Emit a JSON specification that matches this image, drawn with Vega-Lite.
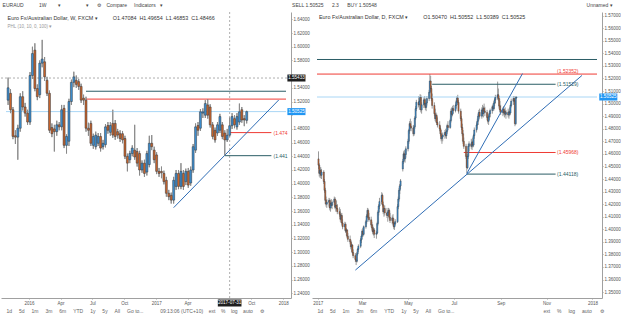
{
"$schema":"https://vega.github.io/schema/vega-lite/v6.json",
"background":"white",
"padding":{"left":0,"top":2,"right":0,"bottom":0},
"title":{"text":"EURAUD\u00a0\u00a0\u00a0\u00a0\u00a0\u00a0\u00a0\u00a0\u00a0\u00a0\u00a01W\u00a0\u00a0\u00a0\u00a0\u00a0\u00a0\u00a0\u00a0▾\u00a0\u00a0\u00a0\u00a0\u00a0\u00a0\u00a0\u00a0\u00a0\u00a0\u00a0\u00a0\u00a0\u00a0\u00a0\u00a0\u00a0\u00a0▾\u00a0\u00a0\u00a0\u00a0\u00a0\u00a0⚙\u00a0\u00a0\u00a0\u00a0Compare\u00a0\u00a0\u00a0\u00a0\u00a0Indicators\u00a0\u00a0\u00a0▾\u00a0\u00a0\u00a0\u00a0\u00a0\u00a0\u00a0\u00a0\u00a0\u00a0\u00a0\u00a0\u00a0\u00a0\u00a0\u00a0\u00a0\u00a0\u00a0\u00a0\u00a0\u00a0\u00a0\u00a0\u00a0\u00a0\u00a0\u00a0\u00a0\u00a0\u00a0\u00a0\u00a0\u00a0\u00a0\u00a0\u00a0\u00a0\u00a0\u00a0\u00a0\u00a0\u00a0\u00a0\u00a0\u00a0\u00a0\u00a0\u00a0\u00a0\u00a0\u00a0\u00a0\u00a0\u00a0\u00a0\u00a0\u00a0\u00a0\u00a0\u00a0\u00a0\u00a0\u00a0\u00a0\u00a0\u00a0\u00a0\u00a0\u00a0\u00a0\u00a0\u00a0\u00a0\u00a0\u00a0\u00a0\u00a0\u00a0\u00a0\u00a0\u00a0\u00a0\u00a0\u00a0\u00a0\u00a0\u00a0\u00a0\u00a0\u00a0\u00a0\u00a0SELL 1.50525\u00a0\u00a0\u00a0\u00a0\u00a0\u00a02.3\u00a0\u00a0\u00a0\u00a0\u00a0\u00a0BUY 1.50548\u00a0\u00a0\u00a0\u00a0\u00a0\u00a0\u00a0\u00a0\u00a0\u00a0\u00a0\u00a0\u00a0\u00a0\u00a0\u00a0\u00a0\u00a0\u00a0\u00a0\u00a0\u00a0\u00a0\u00a0\u00a0\u00a0\u00a0\u00a0\u00a0\u00a0\u00a0\u00a0\u00a0\u00a0\u00a0\u00a0\u00a0\u00a0\u00a0\u00a0\u00a0\u00a0\u00a0\u00a0\u00a0\u00a0\u00a0\u00a0\u00a0\u00a0\u00a0\u00a0\u00a0\u00a0\u00a0\u00a0\u00a0\u00a0\u00a0\u00a0\u00a0\u00a0\u00a0\u00a0\u00a0\u00a0\u00a0\u00a0\u00a0\u00a0\u00a0\u00a0\u00a0\u00a0\u00a0\u00a0\u00a0\u00a0\u00a0\u00a0\u00a0\u00a0\u00a0\u00a0\u00a0\u00a0\u00a0\u00a0\u00a0\u00a0\u00a0\u00a0\u00a0\u00a0\u00a0\u00a0\u00a0\u00a0\u00a0\u00a0\u00a0\u00a0\u00a0\u00a0\u00a0\u00a0\u00a0\u00a0\u00a0\u00a0\u00a0\u00a0\u00a0\u00a0\u00a0\u00a0\u00a0\u00a0\u00a0\u00a0\u00a0\u00a0\u00a0\u00a0\u00a0\u00a0\u00a0\u00a0\u00a0\u00a0\u00a0\u00a0\u00a0\u00a0\u00a0\u00a0\u00a0\u00a0\u00a0\u00a0\u00a0\u00a0\u00a0\u00a0\u00a0\u00a0\u00a0\u00a0\u00a0\u00a0\u00a0Unnamed ▾","anchor":"start","fontSize":5,"font":"Liberation Sans","color":"#444","fontWeight":"normal","offset":4,"dx":2},
"config":{"view":{"stroke":null},"legend":{"disable":true},
"axis":{"labelFont":"Liberation Sans","labelFontSize":4.5,"labelColor":"#555","domainColor":"#a0a0a0","tickColor":"#a0a0a0","tickSize":1,"grid":false,"titleFont":"Liberation Sans","titleFontSize":5,"titleFontWeight":"normal","titleColor":"#666","labelFlush":false,"labelOverlap":false}},
"spacing":2,
"datasets":{
"hl":[
{"g":"L","a":"2016-06-13","b":"2018-01-09","v":1.535,"k":"teal"},
{"g":"L","a":"2016-06-13","b":"2018-01-09","v":1.52352,"k":"red"},
{"g":"L","a":"2015-10-27","b":"2018-01-09","v":1.50525,"k":"last"},
{"g":"L","a":"2017-07-31","b":"2017-11-28","v":1.4746,"k":"red"},
{"g":"L","a":"2017-07-17","b":"2017-11-28","v":1.4409,"k":"teal"},
{"g":"R","a":"2016-12-31","b":"2018-01-07","v":1.5351,"k":"teal"},
{"g":"R","a":"2016-12-31","b":"2018-01-07","v":1.5235,"k":"red"},
{"g":"R","a":"2016-12-31","b":"2018-01-07","v":1.50525,"k":"last"},
{"g":"R","a":"2017-06-02","b":"2017-11-13","v":1.5154,"k":"teal"},
{"g":"R","a":"2017-07-14","b":"2017-11-13","v":1.4611,"k":"red"},
{"g":"R","a":"2017-07-18","b":"2017-11-13","v":1.4439,"k":"teal"}],
"tr":[
{"g":"L","a":"2017-02-20","b":"2017-12-19","v":1.365,"w":1.5222,"k":"trend"},
{"g":"R","a":"2017-02-20","b":"2017-12-18","v":1.3675,"w":1.5224,"k":"trend"},
{"g":"R","a":"2017-07-18","b":"2017-09-30","v":1.4443,"w":1.5239,"k":"trend"}],
"lab":[
{"g":"L","a":"2017-12-04","v":1.4746,"t":"(1.474","k":"red"},
{"g":"L","a":"2017-12-04","v":1.4409,"t":"(1.441","k":"teal"},
{"g":"R","a":"2017-11-15","v":1.5262,"t":"(1.52352)","k":"red"},
{"g":"R","a":"2017-11-15","v":1.5154,"t":"(1.51529)","k":"teal"},
{"g":"R","a":"2017-11-15","v":1.4611,"t":"(1.45968)","k":"red"},
{"g":"R","a":"2017-11-15","v":1.4439,"t":"(1.44118)","k":"teal"}],
"box":[
{"g":"L","a":"2018-01-13","b":"2018-03-06","m":"2018-02-08","v":1.50525,"t":"1.50525","k":"lastbox"},
{"g":"L","a":"2018-01-13","b":"2018-03-06","m":"2018-02-08","v":1.5543,"t":"1.55433","k":"cross"},
{"g":"L","a":"2017-06-27","b":"2017-09-03","m":"2017-07-31","v":1.2258,"t":"2017-07-31","k":"cross"},
{"g":"R","a":"2018-01-10","b":"2018-02-03","m":"2018-01-22","v":1.50525,"t":"1.50525","k":"lastbox"}],
"cross":[{"g":"L","a":"2017-07-31","v":1.5543}],
"weekly":[
{"d":"2015-11-02","o":1.522,"h":1.555,"l":1.515,"c":1.540},
{"d":"2015-11-09","o":1.532,"h":1.538,"l":1.503,"c":1.508},
{"d":"2015-11-16","o":1.508,"h":1.512,"l":1.465,"c":1.469},
{"d":"2015-11-23","o":1.470,"h":1.478,"l":1.458,"c":1.468},
{"d":"2015-11-30","o":1.468,"h":1.486,"l":1.435,"c":1.481},
{"d":"2015-12-07","o":1.481,"h":1.532,"l":1.476,"c":1.527},
{"d":"2015-12-14","o":1.527,"h":1.535,"l":1.507,"c":1.512},
{"d":"2015-12-21","o":1.512,"h":1.518,"l":1.498,"c":1.503},
{"d":"2015-12-28","o":1.503,"h":1.508,"l":1.486,"c":1.490},
{"d":"2016-01-04","o":1.490,"h":1.563,"l":1.486,"c":1.558},
{"d":"2016-01-11","o":1.558,"h":1.600,"l":1.553,"c":1.590},
{"d":"2016-01-18","o":1.595,"h":1.605,"l":1.535,"c":1.539},
{"d":"2016-01-25","o":1.539,"h":1.545,"l":1.522,"c":1.527},
{"d":"2016-02-01","o":1.530,"h":1.580,"l":1.525,"c":1.576},
{"d":"2016-02-08","o":1.576,"h":1.610,"l":1.570,"c":1.582},
{"d":"2016-02-15","o":1.578,"h":1.585,"l":1.550,"c":1.556},
{"d":"2016-02-22","o":1.551,"h":1.556,"l":1.528,"c":1.532},
{"d":"2016-02-29","o":1.532,"h":1.536,"l":1.474,"c":1.478},
{"d":"2016-03-07","o":1.482,"h":1.488,"l":1.468,"c":1.473},
{"d":"2016-03-14","o":1.480,"h":1.486,"l":1.447,"c":1.476},
{"d":"2016-03-21","o":1.476,"h":1.492,"l":1.470,"c":1.486},
{"d":"2016-03-28","o":1.486,"h":1.490,"l":1.478,"c":1.483},
{"d":"2016-04-04","o":1.483,"h":1.515,"l":1.478,"c":1.508},
{"d":"2016-04-11","o":1.510,"h":1.515,"l":1.452,"c":1.456},
{"d":"2016-04-18","o":1.456,"h":1.472,"l":1.444,"c":1.469},
{"d":"2016-04-25","o":1.462,"h":1.524,"l":1.455,"c":1.520},
{"d":"2016-05-02","o":1.520,"h":1.552,"l":1.515,"c":1.548},
{"d":"2016-05-09","o":1.548,"h":1.5635,"l":1.541,"c":1.556},
{"d":"2016-05-16","o":1.551,"h":1.558,"l":1.540,"c":1.545},
{"d":"2016-05-23","o":1.549,"h":1.553,"l":1.537,"c":1.542},
{"d":"2016-05-30","o":1.542,"h":1.546,"l":1.518,"c":1.522},
{"d":"2016-06-06","o":1.525,"h":1.530,"l":1.515,"c":1.522},
{"d":"2016-06-13","o":1.522,"h":1.527,"l":1.476,"c":1.481},
{"d":"2016-06-20","o":1.481,"h":1.489,"l":1.470,"c":1.478},
{"d":"2016-06-27","o":1.488,"h":1.492,"l":1.455,"c":1.459},
{"d":"2016-07-04","o":1.456,"h":1.473,"l":1.451,"c":1.469},
{"d":"2016-07-11","o":1.454,"h":1.476,"l":1.450,"c":1.471},
{"d":"2016-07-18","o":1.459,"h":1.474,"l":1.455,"c":1.469},
{"d":"2016-07-25","o":1.469,"h":1.474,"l":1.447,"c":1.452},
{"d":"2016-08-01","o":1.454,"h":1.464,"l":1.450,"c":1.459},
{"d":"2016-08-08","o":1.457,"h":1.487,"l":1.453,"c":1.483},
{"d":"2016-08-15","o":1.485,"h":1.490,"l":1.473,"c":1.478},
{"d":"2016-08-22","o":1.475,"h":1.490,"l":1.470,"c":1.485},
{"d":"2016-08-29","o":1.488,"h":1.508,"l":1.467,"c":1.471},
{"d":"2016-09-05","o":1.488,"h":1.493,"l":1.464,"c":1.469},
{"d":"2016-09-12","o":1.476,"h":1.480,"l":1.466,"c":1.471},
{"d":"2016-09-19","o":1.473,"h":1.478,"l":1.461,"c":1.466},
{"d":"2016-09-26","o":1.473,"h":1.477,"l":1.459,"c":1.464},
{"d":"2016-10-03","o":1.466,"h":1.470,"l":1.436,"c":1.440},
{"d":"2016-10-10","o":1.440,"h":1.444,"l":1.418,"c":1.430},
{"d":"2016-10-17","o":1.435,"h":1.448,"l":1.430,"c":1.444},
{"d":"2016-10-24","o":1.444,"h":1.456,"l":1.440,"c":1.452},
{"d":"2016-10-31","o":1.449,"h":1.486,"l":1.435,"c":1.439},
{"d":"2016-11-07","o":1.447,"h":1.452,"l":1.425,"c":1.430},
{"d":"2016-11-14","o":1.444,"h":1.448,"l":1.412,"c":1.420},
{"d":"2016-11-21","o":1.420,"h":1.434,"l":1.416,"c":1.430},
{"d":"2016-11-28","o":1.430,"h":1.435,"l":1.410,"c":1.415},
{"d":"2016-12-05","o":1.417,"h":1.448,"l":1.412,"c":1.444},
{"d":"2016-12-12","o":1.428,"h":1.470,"l":1.424,"c":1.459},
{"d":"2016-12-19","o":1.459,"h":1.471,"l":1.449,"c":1.454},
{"d":"2016-12-26","o":1.449,"h":1.454,"l":1.430,"c":1.435},
{"d":"2017-01-02","o":1.442,"h":1.446,"l":1.414,"c":1.418},
{"d":"2017-01-09","o":1.418,"h":1.423,"l":1.410,"c":1.415},
{"d":"2017-01-16","o":1.418,"h":1.425,"l":1.408,"c":1.416},
{"d":"2017-01-23","o":1.415,"h":1.419,"l":1.399,"c":1.403},
{"d":"2017-01-30","o":1.405,"h":1.410,"l":1.381,"c":1.386},
{"d":"2017-02-06","o":1.386,"h":1.391,"l":1.376,"c":1.381},
{"d":"2017-02-13","o":1.383,"h":1.387,"l":1.371,"c":1.376},
{"d":"2017-02-20","o":1.376,"h":1.410,"l":1.371,"c":1.405},
{"d":"2017-02-27","o":1.396,"h":1.420,"l":1.391,"c":1.415},
{"d":"2017-03-06","o":1.415,"h":1.420,"l":1.392,"c":1.396},
{"d":"2017-03-13","o":1.396,"h":1.430,"l":1.392,"c":1.418},
{"d":"2017-03-20","o":1.415,"h":1.420,"l":1.391,"c":1.396},
{"d":"2017-03-27","o":1.403,"h":1.422,"l":1.398,"c":1.418},
{"d":"2017-04-03","o":1.418,"h":1.423,"l":1.394,"c":1.398},
{"d":"2017-04-10","o":1.401,"h":1.425,"l":1.397,"c":1.420},
{"d":"2017-04-17","o":1.420,"h":1.458,"l":1.416,"c":1.454},
{"d":"2017-04-24","o":1.449,"h":1.488,"l":1.445,"c":1.483},
{"d":"2017-05-01","o":1.485,"h":1.490,"l":1.470,"c":1.478},
{"d":"2017-05-08","o":1.481,"h":1.509,"l":1.477,"c":1.505},
{"d":"2017-05-15","o":1.503,"h":1.510,"l":1.496,"c":1.505},
{"d":"2017-05-22","o":1.500,"h":1.522,"l":1.496,"c":1.517},
{"d":"2017-05-29","o":1.515,"h":1.5235,"l":1.495,"c":1.500},
{"d":"2017-06-05","o":1.512,"h":1.516,"l":1.482,"c":1.486},
{"d":"2017-06-12","o":1.486,"h":1.490,"l":1.465,"c":1.469},
{"d":"2017-06-19","o":1.478,"h":1.482,"l":1.460,"c":1.464},
{"d":"2017-06-26","o":1.474,"h":1.490,"l":1.470,"c":1.486},
{"d":"2017-07-03","o":1.478,"h":1.502,"l":1.474,"c":1.498},
{"d":"2017-07-10","o":1.486,"h":1.490,"l":1.465,"c":1.469},
{"d":"2017-07-17","o":1.474,"h":1.478,"l":1.441,"c":1.464},
{"d":"2017-07-24","o":1.464,"h":1.480,"l":1.461,"c":1.4708},
{"d":"2017-07-31","o":1.47084,"h":1.49654,"l":1.46853,"c":1.48466},
{"d":"2017-08-07","o":1.4847,"h":1.503,"l":1.480,"c":1.498},
{"d":"2017-08-14","o":1.495,"h":1.500,"l":1.481,"c":1.486},
{"d":"2017-08-21","o":1.483,"h":1.503,"l":1.479,"c":1.498},
{"d":"2017-08-28","o":1.490,"h":1.517,"l":1.486,"c":1.505},
{"d":"2017-09-04","o":1.508,"h":1.512,"l":1.489,"c":1.493},
{"d":"2017-09-11","o":1.495,"h":1.500,"l":1.484,"c":1.493},
{"d":"2017-09-18","o":1.4925,"h":1.5065,"l":1.488,"c":1.50525}],
"daily":[
{"d":"2017-01-02","o":1.4560,"h":1.4620,"l":1.4480,"c":1.4510},
{"d":"2017-01-03","o":1.4510,"h":1.4525,"l":1.4420,"c":1.4445},
{"d":"2017-01-04","o":1.4445,"h":1.4490,"l":1.4410,"c":1.4470},
{"d":"2017-01-05","o":1.4470,"h":1.4495,"l":1.4405,"c":1.4430},
{"d":"2017-01-06","o":1.4430,"h":1.4480,"l":1.4400,"c":1.4455},
{"d":"2017-01-09","o":1.4455,"h":1.4470,"l":1.4360,"c":1.4380},
{"d":"2017-01-10","o":1.4380,"h":1.4400,"l":1.4290,"c":1.4310},
{"d":"2017-01-11","o":1.4310,"h":1.4330,"l":1.4200,"c":1.4230},
{"d":"2017-01-12","o":1.4230,"h":1.4260,"l":1.4180,"c":1.4200},
{"d":"2017-01-13","o":1.4200,"h":1.4240,"l":1.4170,"c":1.4215},
{"d":"2017-01-16","o":1.4215,"h":1.4250,"l":1.4180,"c":1.4230},
{"d":"2017-01-17","o":1.4230,"h":1.4245,"l":1.4150,"c":1.4170},
{"d":"2017-01-18","o":1.4170,"h":1.4220,"l":1.4140,"c":1.4205},
{"d":"2017-01-19","o":1.4205,"h":1.4240,"l":1.4170,"c":1.4190},
{"d":"2017-01-20","o":1.4190,"h":1.4230,"l":1.4160,"c":1.4215},
{"d":"2017-01-23","o":1.4215,"h":1.4260,"l":1.4190,"c":1.4240},
{"d":"2017-01-24","o":1.4240,"h":1.4255,"l":1.4160,"c":1.4175},
{"d":"2017-01-25","o":1.4175,"h":1.4210,"l":1.4140,"c":1.4190},
{"d":"2017-01-26","o":1.4190,"h":1.4230,"l":1.4150,"c":1.4165},
{"d":"2017-01-27","o":1.4165,"h":1.4200,"l":1.4120,"c":1.4140},
{"d":"2017-01-30","o":1.4140,"h":1.4175,"l":1.4100,"c":1.4120},
{"d":"2017-01-31","o":1.4120,"h":1.4160,"l":1.4060,"c":1.4080},
{"d":"2017-02-01","o":1.4080,"h":1.4130,"l":1.4050,"c":1.4110},
{"d":"2017-02-02","o":1.4110,"h":1.4130,"l":1.4030,"c":1.4050},
{"d":"2017-02-03","o":1.4050,"h":1.4080,"l":1.4000,"c":1.4020},
{"d":"2017-02-06","o":1.4020,"h":1.4060,"l":1.3990,"c":1.4040},
{"d":"2017-02-07","o":1.4040,"h":1.4055,"l":1.3970,"c":1.3985},
{"d":"2017-02-08","o":1.3985,"h":1.4010,"l":1.3950,"c":1.3995},
{"d":"2017-02-09","o":1.3995,"h":1.4000,"l":1.3930,"c":1.3945},
{"d":"2017-02-10","o":1.3945,"h":1.3970,"l":1.3900,"c":1.3920},
{"d":"2017-02-13","o":1.3920,"h":1.3950,"l":1.3880,"c":1.3900},
{"d":"2017-02-14","o":1.3900,"h":1.3915,"l":1.3840,"c":1.3860},
{"d":"2017-02-15","o":1.3860,"h":1.3890,"l":1.3820,"c":1.3875},
{"d":"2017-02-16","o":1.3875,"h":1.3880,"l":1.3800,"c":1.3815},
{"d":"2017-02-17","o":1.3815,"h":1.3840,"l":1.3770,"c":1.3790},
{"d":"2017-02-20","o":1.3790,"h":1.3810,"l":1.3740,"c":1.3760},
{"d":"2017-02-21","o":1.3760,"h":1.3780,"l":1.3715,"c":1.3745},
{"d":"2017-02-22","o":1.3745,"h":1.3820,"l":1.3735,"c":1.3805},
{"d":"2017-02-23","o":1.3805,"h":1.3850,"l":1.3790,"c":1.3840},
{"d":"2017-02-24","o":1.3840,"h":1.3880,"l":1.3820,"c":1.3865},
{"d":"2017-02-27","o":1.3865,"h":1.3930,"l":1.3850,"c":1.3915},
{"d":"2017-02-28","o":1.3915,"h":1.3960,"l":1.3890,"c":1.3945},
{"d":"2017-03-01","o":1.3945,"h":1.4000,"l":1.3920,"c":1.3985},
{"d":"2017-03-02","o":1.3985,"h":1.4010,"l":1.3940,"c":1.3960},
{"d":"2017-03-03","o":1.3960,"h":1.4030,"l":1.3950,"c":1.4020},
{"d":"2017-03-06","o":1.4020,"h":1.4075,"l":1.4005,"c":1.4060},
{"d":"2017-03-07","o":1.4060,"h":1.4120,"l":1.4040,"c":1.4105},
{"d":"2017-03-08","o":1.4105,"h":1.4170,"l":1.4090,"c":1.4150},
{"d":"2017-03-09","o":1.4150,"h":1.4165,"l":1.4080,"c":1.4095},
{"d":"2017-03-10","o":1.4095,"h":1.4130,"l":1.4060,"c":1.4075},
{"d":"2017-03-13","o":1.4075,"h":1.4100,"l":1.4020,"c":1.4035},
{"d":"2017-03-14","o":1.4035,"h":1.4060,"l":1.3990,"c":1.4010},
{"d":"2017-03-15","o":1.4010,"h":1.4040,"l":1.3960,"c":1.3980},
{"d":"2017-03-16","o":1.3980,"h":1.4020,"l":1.3950,"c":1.3995},
{"d":"2017-03-17","o":1.3995,"h":1.4010,"l":1.3930,"c":1.3960},
{"d":"2017-03-20","o":1.3960,"h":1.3985,"l":1.3925,"c":1.3970},
{"d":"2017-03-21","o":1.3970,"h":1.4060,"l":1.3960,"c":1.4045},
{"d":"2017-03-22","o":1.4045,"h":1.4150,"l":1.4030,"c":1.4135},
{"d":"2017-03-23","o":1.4135,"h":1.4200,"l":1.4110,"c":1.4185},
{"d":"2017-03-24","o":1.4185,"h":1.4250,"l":1.4160,"c":1.4220},
{"d":"2017-03-27","o":1.4220,"h":1.4295,"l":1.4200,"c":1.4270},
{"d":"2017-03-28","o":1.4270,"h":1.4285,"l":1.4180,"c":1.4195},
{"d":"2017-03-29","o":1.4195,"h":1.4220,"l":1.4120,"c":1.4140},
{"d":"2017-03-30","o":1.4140,"h":1.4180,"l":1.4100,"c":1.4165},
{"d":"2017-03-31","o":1.4165,"h":1.4190,"l":1.4110,"c":1.4130},
{"d":"2017-04-03","o":1.4130,"h":1.4170,"l":1.4090,"c":1.4110},
{"d":"2017-04-04","o":1.4110,"h":1.4150,"l":1.4060,"c":1.4135},
{"d":"2017-04-05","o":1.4135,"h":1.4170,"l":1.4100,"c":1.4150},
{"d":"2017-04-06","o":1.4150,"h":1.4165,"l":1.4080,"c":1.4095},
{"d":"2017-04-07","o":1.4095,"h":1.4130,"l":1.4050,"c":1.4070},
{"d":"2017-04-10","o":1.4070,"h":1.4110,"l":1.4040,"c":1.4090},
{"d":"2017-04-11","o":1.4090,"h":1.4120,"l":1.4030,"c":1.4050},
{"d":"2017-04-12","o":1.4050,"h":1.4085,"l":1.4000,"c":1.4020},
{"d":"2017-04-13","o":1.4020,"h":1.4060,"l":1.3995,"c":1.4045},
{"d":"2017-04-14","o":1.4045,"h":1.4080,"l":1.4030,"c":1.4060},
{"d":"2017-04-17","o":1.4060,"h":1.4200,"l":1.4050,"c":1.4180},
{"d":"2017-04-18","o":1.4180,"h":1.4260,"l":1.4160,"c":1.4240},
{"d":"2017-04-19","o":1.4240,"h":1.4330,"l":1.4220,"c":1.4310},
{"d":"2017-04-20","o":1.4310,"h":1.4360,"l":1.4280,"c":1.4345},
{"d":"2017-04-21","o":1.4345,"h":1.4400,"l":1.4320,"c":1.4385},
{"d":"2017-04-24","o":1.4480,"h":1.4560,"l":1.4460,"c":1.4540},
{"d":"2017-04-25","o":1.4540,"h":1.4620,"l":1.4520,"c":1.4600},
{"d":"2017-04-26","o":1.4600,"h":1.4630,"l":1.4540,"c":1.4560},
{"d":"2017-04-27","o":1.4560,"h":1.4620,"l":1.4530,"c":1.4595},
{"d":"2017-04-28","o":1.4595,"h":1.4660,"l":1.4570,"c":1.4640},
{"d":"2017-05-01","o":1.4640,"h":1.4720,"l":1.4620,"c":1.4700},
{"d":"2017-05-02","o":1.4700,"h":1.4800,"l":1.4680,"c":1.4785},
{"d":"2017-05-03","o":1.4785,"h":1.4860,"l":1.4760,"c":1.4840},
{"d":"2017-05-04","o":1.4840,"h":1.4880,"l":1.4800,"c":1.4820},
{"d":"2017-05-05","o":1.4820,"h":1.4860,"l":1.4780,"c":1.4805},
{"d":"2017-05-08","o":1.4805,"h":1.4830,"l":1.4740,"c":1.4760},
{"d":"2017-05-09","o":1.4760,"h":1.4830,"l":1.4745,"c":1.4815},
{"d":"2017-05-10","o":1.4815,"h":1.4900,"l":1.4800,"c":1.4885},
{"d":"2017-05-11","o":1.4885,"h":1.4980,"l":1.4870,"c":1.4960},
{"d":"2017-05-12","o":1.4960,"h":1.5030,"l":1.4940,"c":1.5010},
{"d":"2017-05-15","o":1.5010,"h":1.5060,"l":1.4970,"c":1.4990},
{"d":"2017-05-16","o":1.4990,"h":1.5040,"l":1.4950,"c":1.5020},
{"d":"2017-05-17","o":1.5020,"h":1.5075,"l":1.4990,"c":1.5050},
{"d":"2017-05-18","o":1.5050,"h":1.5070,"l":1.4930,"c":1.4950},
{"d":"2017-05-19","o":1.4950,"h":1.5010,"l":1.4920,"c":1.4990},
{"d":"2017-05-22","o":1.4990,"h":1.5050,"l":1.4965,"c":1.5030},
{"d":"2017-05-23","o":1.5030,"h":1.5060,"l":1.4980,"c":1.5000},
{"d":"2017-05-24","o":1.5000,"h":1.5040,"l":1.4950,"c":1.4970},
{"d":"2017-05-25","o":1.4970,"h":1.5020,"l":1.4940,"c":1.5005},
{"d":"2017-05-26","o":1.5005,"h":1.5060,"l":1.4985,"c":1.5040},
{"d":"2017-05-29","o":1.5040,"h":1.5110,"l":1.5020,"c":1.5090},
{"d":"2017-05-30","o":1.5090,"h":1.5235,"l":1.5080,"c":1.5180},
{"d":"2017-05-31","o":1.5180,"h":1.5220,"l":1.5100,"c":1.5120},
{"d":"2017-06-01","o":1.5120,"h":1.5140,"l":1.5020,"c":1.5040},
{"d":"2017-06-02","o":1.5040,"h":1.5080,"l":1.4960,"c":1.4985},
{"d":"2017-06-05","o":1.4985,"h":1.5010,"l":1.4900,"c":1.4920},
{"d":"2017-06-06","o":1.4920,"h":1.4960,"l":1.4860,"c":1.4880},
{"d":"2017-06-07","o":1.4880,"h":1.4930,"l":1.4850,"c":1.4905},
{"d":"2017-06-08","o":1.4905,"h":1.4920,"l":1.4830,"c":1.4850},
{"d":"2017-06-09","o":1.4850,"h":1.4890,"l":1.4810,"c":1.4830},
{"d":"2017-06-12","o":1.4830,"h":1.4860,"l":1.4780,"c":1.4800},
{"d":"2017-06-13","o":1.4800,"h":1.4820,"l":1.4740,"c":1.4760},
{"d":"2017-06-14","o":1.4760,"h":1.4790,"l":1.4700,"c":1.4720},
{"d":"2017-06-15","o":1.4720,"h":1.4750,"l":1.4680,"c":1.4735},
{"d":"2017-06-16","o":1.4735,"h":1.4770,"l":1.4700,"c":1.4750},
{"d":"2017-06-19","o":1.4750,"h":1.4790,"l":1.4720,"c":1.4770},
{"d":"2017-06-20","o":1.4770,"h":1.4800,"l":1.4730,"c":1.4745},
{"d":"2017-06-21","o":1.4745,"h":1.4790,"l":1.4720,"c":1.4780},
{"d":"2017-06-22","o":1.4780,"h":1.4840,"l":1.4760,"c":1.4825},
{"d":"2017-06-23","o":1.4825,"h":1.4860,"l":1.4790,"c":1.4810},
{"d":"2017-06-26","o":1.4810,"h":1.4880,"l":1.4800,"c":1.4865},
{"d":"2017-06-27","o":1.4865,"h":1.4960,"l":1.4850,"c":1.4940},
{"d":"2017-06-28","o":1.4940,"h":1.4970,"l":1.4890,"c":1.4915},
{"d":"2017-06-29","o":1.4915,"h":1.4980,"l":1.4900,"c":1.4960},
{"d":"2017-06-30","o":1.4960,"h":1.4990,"l":1.4920,"c":1.4945},
{"d":"2017-07-03","o":1.4945,"h":1.5000,"l":1.4930,"c":1.4985},
{"d":"2017-07-04","o":1.4985,"h":1.5030,"l":1.4960,"c":1.5015},
{"d":"2017-07-05","o":1.5015,"h":1.5060,"l":1.4990,"c":1.5045},
{"d":"2017-07-06","o":1.5045,"h":1.5070,"l":1.4990,"c":1.5010},
{"d":"2017-07-07","o":1.5010,"h":1.5030,"l":1.4920,"c":1.4940},
{"d":"2017-07-10","o":1.4940,"h":1.4960,"l":1.4860,"c":1.4880},
{"d":"2017-07-11","o":1.4880,"h":1.4900,"l":1.4790,"c":1.4810},
{"d":"2017-07-12","o":1.4810,"h":1.4840,"l":1.4740,"c":1.4760},
{"d":"2017-07-13","o":1.4760,"h":1.4790,"l":1.4680,"c":1.4700},
{"d":"2017-07-14","o":1.4700,"h":1.4730,"l":1.4640,"c":1.4660},
{"d":"2017-07-17","o":1.4660,"h":1.4680,"l":1.4560,"c":1.4580},
{"d":"2017-07-18","o":1.4580,"h":1.4600,"l":1.4445,"c":1.4490},
{"d":"2017-07-19","o":1.4490,"h":1.4600,"l":1.4480,"c":1.4580},
{"d":"2017-07-20","o":1.4580,"h":1.4680,"l":1.4560,"c":1.4660},
{"d":"2017-07-21","o":1.4660,"h":1.4700,"l":1.4620,"c":1.4680},
{"d":"2017-07-24","o":1.4680,"h":1.4720,"l":1.4640,"c":1.4660},
{"d":"2017-07-25","o":1.4660,"h":1.4710,"l":1.4630,"c":1.4695},
{"d":"2017-07-26","o":1.4695,"h":1.4730,"l":1.4650,"c":1.4670},
{"d":"2017-07-27","o":1.4670,"h":1.4760,"l":1.4655,"c":1.4745},
{"d":"2017-07-28","o":1.4745,"h":1.4810,"l":1.4720,"c":1.4790},
{"d":"2017-07-31","o":1.4790,"h":1.4850,"l":1.4770,"c":1.4830},
{"d":"2017-08-01","o":1.4830,"h":1.4880,"l":1.4800,"c":1.4860},
{"d":"2017-08-02","o":1.4860,"h":1.4920,"l":1.4830,"c":1.4900},
{"d":"2017-08-03","o":1.4900,"h":1.4950,"l":1.4870,"c":1.4930},
{"d":"2017-08-04","o":1.4930,"h":1.4960,"l":1.4880,"c":1.4900},
{"d":"2017-08-07","o":1.4900,"h":1.4970,"l":1.4880,"c":1.4950},
{"d":"2017-08-08","o":1.4950,"h":1.4990,"l":1.4900,"c":1.4920},
{"d":"2017-08-09","o":1.4920,"h":1.4980,"l":1.4890,"c":1.4965},
{"d":"2017-08-10","o":1.4965,"h":1.5000,"l":1.4920,"c":1.4940},
{"d":"2017-08-11","o":1.4940,"h":1.4975,"l":1.4900,"c":1.4930},
{"d":"2017-08-14","o":1.4930,"h":1.4950,"l":1.4870,"c":1.4890},
{"d":"2017-08-15","o":1.4890,"h":1.4920,"l":1.4840,"c":1.4860},
{"d":"2017-08-16","o":1.4860,"h":1.4910,"l":1.4830,"c":1.4895},
{"d":"2017-08-17","o":1.4895,"h":1.4940,"l":1.4870,"c":1.4920},
{"d":"2017-08-18","o":1.4920,"h":1.4960,"l":1.4890,"c":1.4945},
{"d":"2017-08-21","o":1.4945,"h":1.4990,"l":1.4920,"c":1.4975},
{"d":"2017-08-22","o":1.4975,"h":1.5000,"l":1.4940,"c":1.4960},
{"d":"2017-08-23","o":1.4960,"h":1.5020,"l":1.4945,"c":1.5005},
{"d":"2017-08-24","o":1.5005,"h":1.5050,"l":1.4980,"c":1.5030},
{"d":"2017-08-25","o":1.5030,"h":1.5070,"l":1.5000,"c":1.5050},
{"d":"2017-08-28","o":1.5050,"h":1.5175,"l":1.5030,"c":1.5070},
{"d":"2017-08-29","o":1.5070,"h":1.5120,"l":1.5020,"c":1.5040},
{"d":"2017-08-30","o":1.5040,"h":1.5060,"l":1.4960,"c":1.4980},
{"d":"2017-08-31","o":1.4980,"h":1.5020,"l":1.4930,"c":1.4950},
{"d":"2017-09-01","o":1.4950,"h":1.4990,"l":1.4910,"c":1.4930},
{"d":"2017-09-04","o":1.4930,"h":1.4970,"l":1.4900,"c":1.4955},
{"d":"2017-09-05","o":1.4955,"h":1.4980,"l":1.4910,"c":1.4925},
{"d":"2017-09-06","o":1.4925,"h":1.4960,"l":1.4890,"c":1.4940},
{"d":"2017-09-07","o":1.4940,"h":1.4970,"l":1.4900,"c":1.4915},
{"d":"2017-09-08","o":1.4915,"h":1.4950,"l":1.4880,"c":1.4930},
{"d":"2017-09-11","o":1.4930,"h":1.4960,"l":1.4890,"c":1.4910},
{"d":"2017-09-12","o":1.4910,"h":1.4950,"l":1.4880,"c":1.4935},
{"d":"2017-09-13","o":1.4935,"h":1.4970,"l":1.4900,"c":1.4925},
{"d":"2017-09-14","o":1.4925,"h":1.5000,"l":1.4910,"c":1.4985},
{"d":"2017-09-15","o":1.4985,"h":1.5040,"l":1.4970,"c":1.5020},
{"d":"2017-09-18","o":1.5020,"h":1.5060,"l":1.4990,"c":1.5040},
{"d":"2017-09-19","o":1.5040,"h":1.5060,"l":1.4990,"c":1.5020},
{"d":"2017-09-20","o":1.5020,"h":1.5035,"l":1.4820,"c":1.4840},
{"d":"2017-09-21","o":1.4840,"h":1.5060,"l":1.4830,"c":1.5047},
{"d":"2017-09-22","o":1.50470,"h":1.50552,"l":1.50389,"c":1.50525}]
},
"hconcat":[
{"width":290,"height":286,
"title":{"text":"Euro Fx/Australian Dollar, W, FXCM ▾\u00a0\u00a0\u00a0\u00a0\u00a0\u00a0\u00a0\u00a0\u00a0\u00a0O1.47084\u00a0\u00a0H1.49654\u00a0\u00a0L1.46853\u00a0\u00a0C1.48466","subtitle":"PHL (10, 10, 0, 100) ▾","anchor":"start","offset":-17,"fontSize":5.4,"subtitleFontSize":4.5,"subtitleColor":"#999","color":"#333","fontWeight":"normal","font":"Liberation Sans","subtitleFont":"Liberation Sans","subtitlePadding":3,"dx":7},
"layer":[
{"data":{"name":"weekly"},"mark":{"type":"rule","color":"#8a8a8a","strokeWidth":1},
 "encoding":{
  "x":{"field":"d","type":"temporal","scale":{"type":"utc","domain":[{"year":2015,"month":10,"date":27,"utc":true},{"year":2018,"month":1,"date":9,"utc":true}]},
   "axis":{"orient":"bottom","tickCount":{"interval":"month","step":3},"labelOverlap":false,"labelExpr":"(utcyear(datum.value)==2017 && utcmonth(datum.value)==6) ? '' : (utcmonth(datum.value)==0 ? utcFormat(datum.value,'%Y') : utcFormat(datum.value,'%b'))","labelPadding":1,"titleLimit":1000,"titleX":5,"titleAlign":"left","titleAnchor":"start","titlePadding":4,
   "title":"1d\u00a0\u00a0\u00a0\u00a0\u00a05d\u00a0\u00a0\u00a0\u00a0\u00a01m\u00a0\u00a0\u00a0\u00a0\u00a03m\u00a0\u00a0\u00a0\u00a0\u00a06m\u00a0\u00a0\u00a0\u00a0\u00a0YTD\u00a0\u00a0\u00a0\u00a0\u00a01y\u00a0\u00a0\u00a0\u00a0\u00a05y\u00a0\u00a0\u00a0\u00a0\u00a0All\u00a0\u00a0\u00a0\u00a0\u00a0Go to...\u00a0\u00a0\u00a0\u00a0\u00a0\u00a0\u00a0\u00a0\u00a0\u00a0\u00a0\u00a009:13:06 (UTC+10)\u00a0\u00a0\u00a0\u00a0ext\u00a0\u00a0\u00a0\u00a0%\u00a0\u00a0\u00a0\u00a0log\u00a0\u00a0\u00a0\u00a0auto\u00a0\u00a0\u00a0\u00a0\u00a0⚙"}},
  "y":{"field":"l","type":"quantitative","scale":{"domain":[1.2331,1.6507],"zero":false,"nice":false},
   "axis":{"orient":"right","values":[1.24,1.26,1.28,1.3,1.32,1.34,1.36,1.38,1.4,1.42,1.44,1.46,1.48,1.5,1.52,1.54,1.56,1.58,1.6,1.62,1.64],"tickCount":100,"labelOverlap":false,"labelExpr":"(abs(datum.value-1.56)<0.001 || abs(datum.value-1.5)<0.001) ? '' : format(datum.value,'.5f')","title":null,"labelPadding":1}},
  "y2":{"field":"h"}}},
{"data":{"name":"cross"},"mark":{"type":"rule","color":"#9a9a9a","strokeDash":[2,2],"strokeWidth":0.8},
 "encoding":{"x":{"field":"a","type":"temporal"}}},
{"data":{"name":"cross"},"mark":{"type":"rule","color":"#9a9a9a","strokeDash":[2,2],"strokeWidth":0.8},
 "encoding":{"y":{"field":"v","type":"quantitative"}}},
{"data":{"name":"hl"},"transform":[{"filter":"datum.g == 'L'"}],"mark":{"type":"rule","strokeWidth":1},
 "encoding":{"x":{"field":"a","type":"temporal"},"x2":{"field":"b"},"y":{"field":"v","type":"quantitative"},
 "color":{"field":"k","type":"nominal","scale":{"domain":["teal","red","last","trend","lastbox","cross"],"range":["#2b5d66","#ef3b34","#a9d6f5","#2f6db5","#2196f3","#1f1f1f"]}}}},
{"data":{"name":"tr"},"transform":[{"filter":"datum.g == 'L'"}],"mark":{"type":"rule","strokeWidth":1},
 "encoding":{"x":{"field":"a","type":"temporal"},"x2":{"field":"b"},"y":{"field":"v","type":"quantitative"},"y2":{"field":"w"},"color":{"field":"k","type":"nominal"}}},
{"data":{"name":"weekly"},"mark":{"type":"rule","color":"#8a8a8a","strokeWidth":1},
 "encoding":{"x":{"field":"d","type":"temporal"},"y":{"field":"l","type":"quantitative"},"y2":{"field":"h"}}},
{"data":{"name":"weekly"},"mark":{"type":"bar","size":2,"stroke":"#33393f","strokeWidth":0.5},
 "encoding":{"x":{"field":"d","type":"temporal"},"y":{"field":"o","type":"quantitative"},"y2":{"field":"c"},
  "color":{"condition":{"test":"datum.c >= datum.o","value":"#3d8fd1"},"value":"#c8642c"}}},
{"data":{"name":"lab"},"transform":[{"filter":"datum.g == 'L'"}],"mark":{"type":"text","align":"left","baseline":"middle","fontSize":5,"font":"Liberation Sans"},
 "encoding":{"x":{"field":"a","type":"temporal"},"y":{"field":"v","type":"quantitative"},"text":{"field":"t"},"color":{"field":"k","type":"nominal"}}},
{"data":{"name":"box"},"transform":[{"filter":"datum.g == 'L'"}],"mark":{"type":"rule","strokeWidth":7},
 "encoding":{"x":{"field":"a","type":"temporal"},"x2":{"field":"b"},"y":{"field":"v","type":"quantitative"},"color":{"field":"k","type":"nominal"}}},
{"data":{"name":"box"},"transform":[{"filter":"datum.g == 'L'"}],"mark":{"type":"text","align":"center","baseline":"middle","fontSize":4.6,"font":"Liberation Sans","color":"white"},
 "encoding":{"x":{"field":"m","type":"temporal"},"y":{"field":"v","type":"quantitative"},"text":{"field":"t"}}}
]},
{"width":290,"height":286,
"title":{"text":"Euro Fx/Australian Dollar, D, FXCM ▾\u00a0\u00a0\u00a0\u00a0\u00a0\u00a0\u00a0\u00a0\u00a0\u00a0O1.50470\u00a0\u00a0H1.50552\u00a0\u00a0L1.50389\u00a0\u00a0C1.50525","anchor":"start","offset":-8,"fontSize":5.4,"color":"#333","fontWeight":"normal","font":"Liberation Sans","dx":7},
"layer":[
{"data":{"name":"daily"},"mark":{"type":"rule","color":"#9a9a9a","strokeWidth":1},
 "encoding":{
  "x":{"field":"d","type":"temporal","scale":{"type":"utc","domain":[{"year":2016,"month":12,"date":31,"utc":true},{"year":2018,"month":1,"date":7,"utc":true}]},
   "axis":{"orient":"bottom","tickCount":{"interval":"month","step":2},"labelOverlap":false,"labelExpr":"utcmonth(datum.value)==0 ? utcFormat(datum.value,'%Y') : utcFormat(datum.value,'%b')","labelPadding":1,"titleLimit":1000,"titleX":5,"titleAlign":"left","titleAnchor":"start","titlePadding":4,
   "title":"1d\u00a0\u00a0\u00a0\u00a0\u00a05d\u00a0\u00a0\u00a0\u00a0\u00a01m\u00a0\u00a0\u00a0\u00a0\u00a03m\u00a0\u00a0\u00a0\u00a0\u00a06m\u00a0\u00a0\u00a0\u00a0\u00a0YTD\u00a0\u00a0\u00a0\u00a0\u00a01y\u00a0\u00a0\u00a0\u00a0\u00a05y\u00a0\u00a0\u00a0\u00a0\u00a0All\u00a0\u00a0\u00a0\u00a0\u00a0Go to...\u00a0\u00a0\u00a0\u00a0\u00a0\u00a0\u00a0\u00a0\u00a0\u00a0\u00a0\u00a0\u00a0\u00a0\u00a0\u00a0\u00a0\u00a0\u00a0\u00a0\u00a0\u00a0\u00a0\u00a0\u00a0\u00a0\u00a0\u00a0\u00a0\u00a0\u00a0\u00a0\u00a0\u00a0\u00a0\u00a0\u00a0\u00a0\u00a0\u00a0\u00a0\u00a0\u00a0\u00a0\u00a0\u00a0\u00a0\u00a0\u00a0\u00a0\u00a0\u00a0\u00a0\u00a0\u00a0\u00a0\u00a0\u00a0\u00a0\u00a0\u00a0\u00a0\u00a0\u00a0ext\u00a0\u00a0\u00a0\u00a0\u00a0%\u00a0\u00a0\u00a0\u00a0\u00a0log\u00a0\u00a0\u00a0\u00a0\u00a0auto\u00a0\u00a0\u00a0\u00a0\u00a0\u00a0⚙"}},
  "y":{"field":"l","type":"quantitative","scale":{"domain":[1.3453,1.5729],"zero":false,"nice":false},
   "axis":{"orient":"right","values":[1.35,1.36,1.37,1.38,1.39,1.4,1.41,1.42,1.43,1.44,1.45,1.46,1.47,1.48,1.49,1.5,1.51,1.52,1.53,1.54,1.55,1.56,1.57],"tickCount":100,"labelOverlap":false,"format":".5f","title":null,"labelPadding":1}},
  "y2":{"field":"h"}}},
{"data":{"name":"hl"},"transform":[{"filter":"datum.g == 'R'"}],"mark":{"type":"rule","strokeWidth":1},
 "encoding":{"x":{"field":"a","type":"temporal"},"x2":{"field":"b"},"y":{"field":"v","type":"quantitative"},
 "color":{"field":"k","type":"nominal","scale":{"domain":["teal","red","last","trend","lastbox","cross"],"range":["#2b5d66","#ef3b34","#a9d6f5","#2f6db5","#2196f3","#1f1f1f"]}}}},
{"data":{"name":"daily"},"mark":{"type":"bar","size":1.2,"stroke":"#2f3d48","strokeWidth":0.4},
 "encoding":{"x":{"field":"d","type":"temporal"},"y":{"field":"o","type":"quantitative"},"y2":{"field":"c"},
  "color":{"condition":{"test":"datum.c >= datum.o","value":"#3d8fd1"},"value":"#c8642c"}}},
{"data":{"name":"tr"},"transform":[{"filter":"datum.g == 'R'"}],"mark":{"type":"rule","strokeWidth":1},
 "encoding":{"x":{"field":"a","type":"temporal"},"x2":{"field":"b"},"y":{"field":"v","type":"quantitative"},"y2":{"field":"w"},"color":{"field":"k","type":"nominal"}}},
{"data":{"name":"lab"},"transform":[{"filter":"datum.g == 'R'"}],"mark":{"type":"text","align":"left","baseline":"middle","fontSize":5,"font":"Liberation Sans"},
 "encoding":{"x":{"field":"a","type":"temporal"},"y":{"field":"v","type":"quantitative"},"text":{"field":"t"},"color":{"field":"k","type":"nominal"}}},
{"data":{"name":"box"},"transform":[{"filter":"datum.g == 'R'"}],"mark":{"type":"rule","strokeWidth":7},
 "encoding":{"x":{"field":"a","type":"temporal"},"x2":{"field":"b"},"y":{"field":"v","type":"quantitative"},"color":{"field":"k","type":"nominal"}}},
{"data":{"name":"box"},"transform":[{"filter":"datum.g == 'R'"}],"mark":{"type":"text","align":"center","baseline":"middle","fontSize":4.6,"font":"Liberation Sans","color":"white"},
 "encoding":{"x":{"field":"m","type":"temporal"},"y":{"field":"v","type":"quantitative"},"text":{"field":"t"}}}
]}
]
}
